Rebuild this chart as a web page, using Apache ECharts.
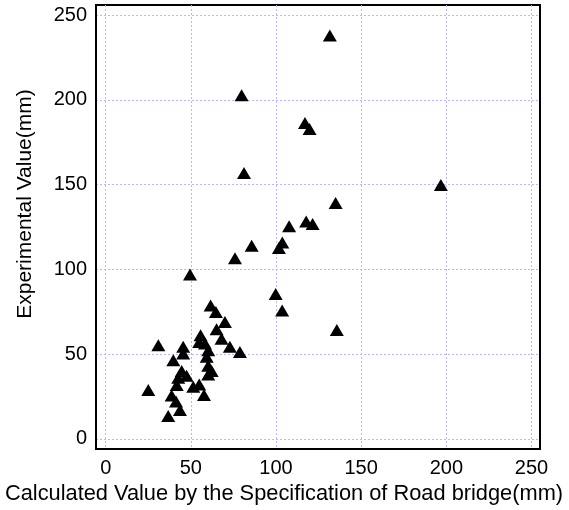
<!DOCTYPE html>
<html>
<head>
<meta charset="utf-8">
<script src="https://cdn.jsdelivr.net/npm/echarts@6/dist/echarts.min.js"></script>
<style>
  html, body { margin: 0; padding: 0; background: #fff; }
  #chart { width: 569px; height: 510px; }
</style>
</head>
<body>
<div id="chart"></div>
<script>
// Calculated deflection (specification) vs. measured deflection, mm
const calculatedValues = [
  131.6, 79.8, 117.0, 119.7, 81.2, 196.8, 135.0, 117.7, 121.5, 107.7,
  103.7, 101.7, 85.7, 75.9, 49.5, 99.8, 103.6, 135.7,
  61.6, 64.7, 70.0, 65.1, 55.7, 68.0, 58.3, 54.9, 72.9, 78.8,
  30.9, 45.5, 45.5, 60.2, 59.3, 39.7, 60.2, 62.2, 60.2, 44.6,
  47.5, 42.6, 41.7, 51.4, 54.9, 25.0, 57.7, 38.7, 41.3, 43.6, 36.7
];
const experimentalValues = [
  238.0, 202.7, 186.4, 182.8, 156.8, 149.8, 139.2, 128.2, 126.7, 125.5,
  115.9, 112.6, 113.9, 106.5, 96.9, 85.4, 75.8, 64.2,
  78.7, 74.8, 68.9, 64.6, 61.1, 59.1, 56.2, 57.2, 54.3, 51.3,
  55.2, 54.3, 50.3, 52.3, 48.4, 46.4, 43.1, 40.0, 38.0, 40.0,
  37.2, 36.0, 31.7, 30.8, 32.1, 28.8, 25.8, 25.5, 22.0, 17.0, 13.5
];
const xTicks = [0, 50, 100, 150, 200, 250];
const yTicks = [0, 50, 100, 150, 200, 250];

const points = calculatedValues.map((x, i) => [x, experimentalValues[i]]);

const FONT = 'Liberation Sans, Arial, sans-serif';
const gridLine = { show: true, lineStyle: { color: '#b8b8f5', width: 1, type: [2, 2] } };

const chart = echarts.init(document.getElementById('chart'), null, { renderer: 'canvas' });
chart.setOption({
  animation: false,
  backgroundColor: '#fff',
  grid: {
    left: 96, right: 29, top: 5, bottom: 59,
    show: true, borderColor: '#000', borderWidth: 2, backgroundColor: '#fff'
  },
  xAxis: {
    type: 'value',
    min: -5.7, max: 255,
    name: 'Calculated Value by the Specification of Road bridge(mm)',
    nameLocation: 'middle',
    nameGap: 34,
    nameTextStyle: { fontFamily: FONT, fontSize: 21.8, color: '#000', padding: [0, 68, 0, 0] },
    axisLine: { show: true, onZero: false, lineStyle: { color: '#000', width: 2 } },
    axisTick: { show: false, customValues: xTicks },
    axisLabel: { customValues: xTicks, fontFamily: FONT, fontSize: 20, color: '#000', margin: 9 },
    splitLine: gridLine
  },
  yAxis: {
    type: 'value',
    min: -6, max: 256,
    name: 'Experimental Value(mm)',
    nameLocation: 'middle',
    nameGap: 60,
    nameTextStyle: { fontFamily: FONT, fontSize: 21, color: '#000', padding: [0, 0, 0, 46] },
    axisLine: { show: true, onZero: false, lineStyle: { color: '#000', width: 2 } },
    axisTick: { show: false, customValues: yTicks },
    axisLabel: { customValues: yTicks, fontFamily: FONT, fontSize: 20, color: '#000', margin: 9 },
    splitLine: gridLine
  },
  series: [{
    type: 'scatter',
    data: points,
    symbol: 'triangle',
    symbolSize: [14, 12],
    itemStyle: { color: '#000', opacity: 1 }
  }]
});
</script>
</body>
</html>
